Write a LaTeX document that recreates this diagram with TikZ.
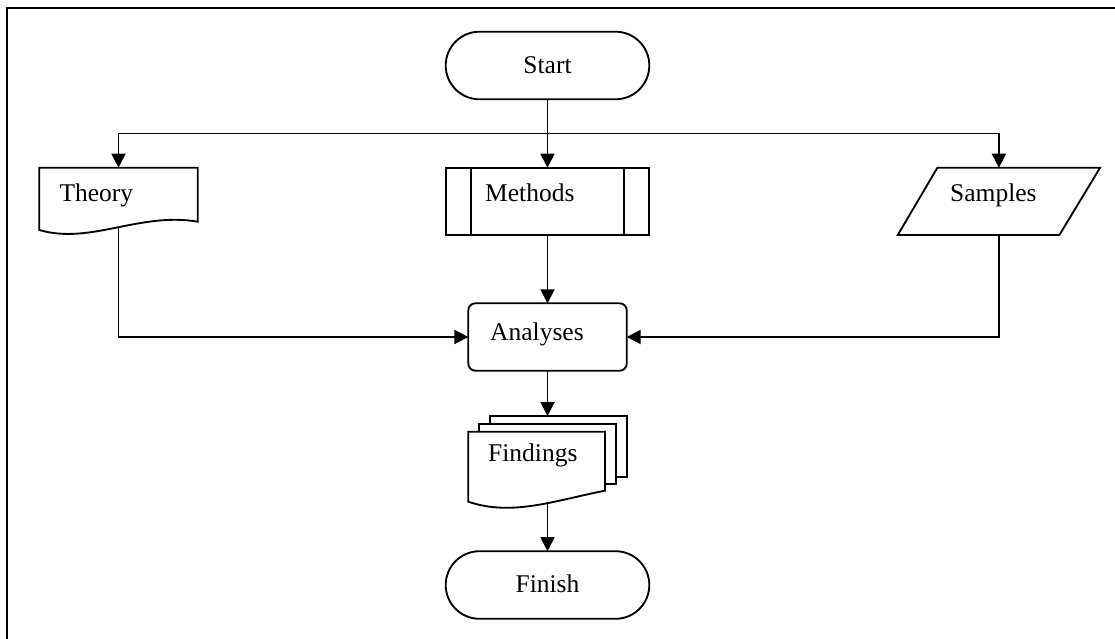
\documentclass[tikz,border=0pt]{standalone}
\usepackage{fontspec}
\setmainfont{Liberation Serif}
\usetikzlibrary{arrows.meta,shapes.misc,calc}
\pgfdeclarelayer{bg}
\pgfsetlayers{bg,main}
\begin{document}
\begin{tikzpicture}[x=1pt,y=-1pt,
  line/.style={line width=1.85pt, line join=miter},
  arr/.style={line, -{Triangle[length=14pt,width=14pt]}},
  lbl/.style={font=\fontsize{25.5}{30}\selectfont, inner sep=0pt},
  area/.style={inner sep=0pt, outer sep=0pt},
  terminal/.style={line, draw, fill=white, rounded rectangle, minimum width=203.6pt, minimum height=67.6pt, inner sep=0pt, outer sep=0pt},
  procbox/.style={line, draw, fill=white, rounded corners=7pt, minimum width=158.4pt, minimum height=67.4pt, inner sep=0pt, outer sep=0pt},
  shapeline/.style={line, draw, fill=white},
]
\useasboundingbox (0,0) rectangle (1115,639);
\begin{pgfonlayer}{bg}
  \fill[white] (0,0) rectangle (1115,639);
\end{pgfonlayer}
\draw[line width=2.3pt] (7,639) -- (7,8) -- (1115,8);

% node areas
\node[terminal] (start) at (547.5,65.5) {};
\node[lbl, anchor=base] (startT) at (547.5,73.3) {Start};
\node[area, minimum width=158.4pt, minimum height=54pt] (theory) at (118.5,194.7) {};
\node[area, minimum width=203.6pt, minimum height=67.6pt] (meth) at (547.5,201.5) {};
\node[area, minimum width=202.3pt, minimum height=67.3pt] (samp) at (998.9,201.4) {};
\node[procbox] (ana) at (547.5,337) {};
\node[area, minimum width=136.7pt, minimum height=60.7pt] (findback) at (558.35,446.35) {};
\node[area, minimum width=136.7pt, minimum height=60pt] (findmid) at (547.35,454) {};
\node[area, minimum width=136.7pt, minimum height=59pt] (find) at (536.65,461.2) {};
\node[terminal] (finish) at (547.5,585) {};
\node[lbl, anchor=base] (finishT) at (547.5,592.3) {Finish};

% connectors (behind shapes)
\coordinate (split) at ($(start.south)+(0,34.2)$);
\begin{pgfonlayer}{bg}
  \draw[arr] (start.south) -- (meth.north);
  \draw[arr] (split) -| (theory.north);
  \draw[arr] (split) -| (samp.north);
  \draw[arr] (theory.south) |- (ana.west);
  \draw[arr] (samp.south) |- (ana.east);
  \draw[arr] (meth.south) -- (ana.north);
  \draw[arr] (ana.south) -- (ana.south |- findback.north);
  \draw[arr] (finish.north |- find.south) -- (finish.north);
\end{pgfonlayer}

% Theory: document shape
\draw[shapeline] (theory.south east) -- (theory.north east) -- (theory.north west)
  -- ($(theory.south west)+(0,8.3)$) .. controls +(51,15) and +(-58,-10) .. (theory.south east) -- cycle;
\node[lbl, anchor=base west] (theoryT) at (59.3,201) {Theory};

% Methods: predefined process
\draw[shapeline] (meth.south west) rectangle (meth.north east);
\draw[line] ($(meth.north west)+(25,0)$) -- ($(meth.south west)+(25,0)$);
\draw[line] ($(meth.north east)+(-25,0)$) -- ($(meth.south east)+(-25,0)$);
\node[lbl, anchor=base west] (methT) at (485,201) {Methods};

% Samples: data (parallelogram)
\draw[shapeline] ($(samp.north west)+(39.6,0)$) -- (samp.north east)
  -- ($(samp.south east)+(-40.7,0)$) -- (samp.south west) -- cycle;
\node[lbl, anchor=base west] (sampT) at (950,201.3) {Samples};

% Analyses
\node[lbl, anchor=base west] (anaT) at (490,340) {Analyses};

% Findings: multi-document
\draw[shapeline] (findback.south west) rectangle (findback.north east);
\draw[shapeline] (findmid.south west) rectangle (findmid.north east);
\draw[shapeline] (find.south east) -- (find.north east) -- (find.north west)
  -- ($(find.south west)+(0,11)$) .. controls +(44,15) and +(-50,9.7) .. (find.south east) -- cycle;
\node[lbl, anchor=base west] (findT) at (488,461.7) {Findings};
\end{tikzpicture}
\end{document}
